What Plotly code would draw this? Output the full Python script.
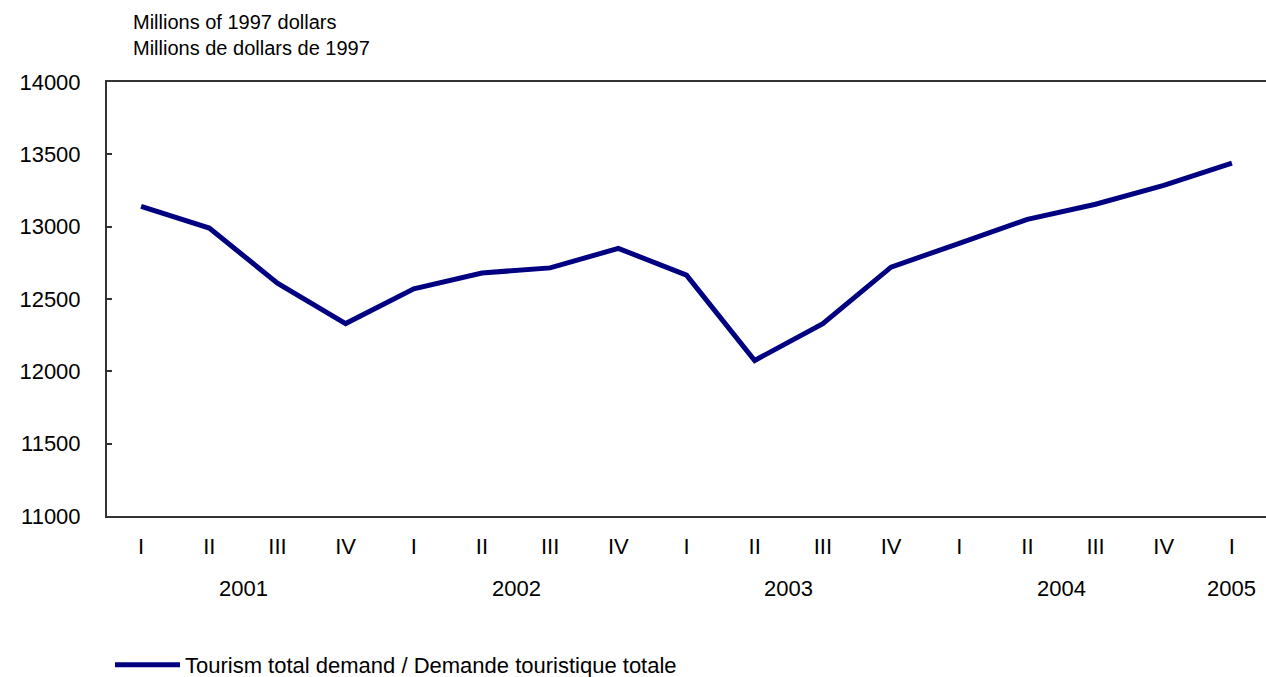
import plotly.graph_objects as go

quarters = ["I", "II", "III", "IV", "I", "II", "III", "IV", "I", "II", "III", "IV",
            "I", "II", "III", "IV", "I"]
years = ["2001", "2002", "2003", "2004", "2005"]
year_pos = [1.5, 5.5, 9.5, 13.5, 16]
demand = [13140, 12990, 12610, 12330, 12570, 12680, 12715, 12850, 12665, 12075,
          12330, 12720, 12885, 13050, 13155, 13285, 13440]
y_ticks = [11000, 11500, 12000, 12500, 13000, 13500, 14000]
y_labels = ["11000", "11500", "12000", "12500", "13000", "13500", "14000"]

FONT = "Liberation Sans, Arial, sans-serif"
x = list(range(len(demand)))

fig = go.Figure()
fig.add_trace(go.Scatter(
    x=x, y=demand, mode="lines",
    line=dict(color="#000080", width=5),
    name="Tourism total demand / Demande touristique totale",
))

fig.update_layout(
    width=1266, height=677,
    margin=dict(l=107, r=0, t=82, b=161, autoexpand=False),
    plot_bgcolor="white", paper_bgcolor="white",
    font=dict(family=FONT, color="#000000", size=22),
    showlegend=True,
    legend=dict(x=3 / 1159, y=(516 - 665) / 434, xanchor="left", yanchor="middle",
                font=dict(size=22, family=FONT), itemwidth=65,
                bgcolor="rgba(0,0,0,0)"),
    xaxis=dict(
        range=[-0.5, 16.5], tickmode="array", tickvals=x, ticktext=quarters,
        showline=True, linecolor="#333333", linewidth=2, mirror=True,
        ticks="", showgrid=False, zeroline=False, ticklabelstandoff=10,
        tickfont=dict(size=22),
    ),
    yaxis=dict(
        range=[11000, 14000], tickmode="array", tickvals=y_ticks, ticktext=y_labels,
        showline=True, linecolor="#333333", linewidth=2,
        ticks="inside", ticklen=5, tickcolor="#333333", tickwidth=2,
        showgrid=False, zeroline=False, ticklabelstandoff=20,
        tickfont=dict(size=22),
    ),
)

annotations = [
    dict(text="Millions of 1997 dollars<br>Millions de dollars de 1997",
         xref="paper", yref="paper", x=(133 - 107 - 2) / 1159, y=1.0,
         yshift=21, xanchor="left", yanchor="bottom", align="left",
         showarrow=False, font=dict(size=20, family=FONT)),
]
for yr, p in zip(years, year_pos):
    annotations.append(dict(text=yr, x=p, xref="x", yref="paper", y=0, yshift=-58,
                            yanchor="top", showarrow=False, font=dict(size=22, family=FONT)))
fig.update_layout(annotations=annotations)

fig.write_html("out.html", config={"displayModeBar": False},
               post_script="document.body.style.margin='0';")
